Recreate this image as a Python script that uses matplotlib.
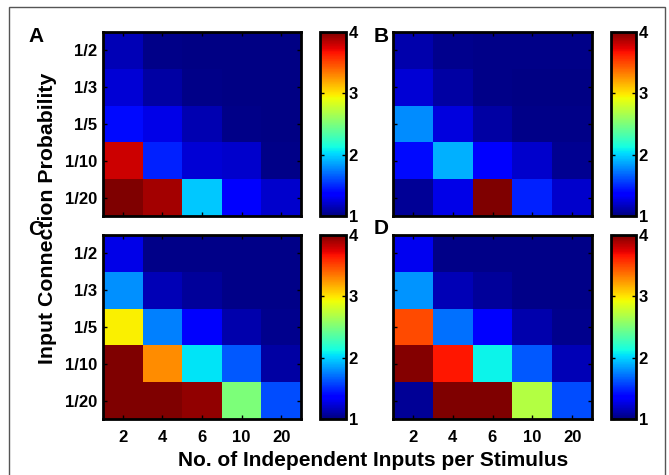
import numpy as np
import matplotlib
matplotlib.use("Agg")
import matplotlib.pyplot as plt
from matplotlib.patches import Rectangle

plt.rcParams['font.family'] = ['Liberation Sans', 'DejaVu Sans']
plt.rcParams['font.weight'] = 'bold'

# eixos
entradas = ["2", "4", "6", "10", "20"]
probabilidades = ["1/2", "1/3", "1/5", "1/10", "1/20"]

# valores por painel (linhas = probabilidade, colunas = entradas)
painel_a = [
    [1.15, 1.03, 1.02, 1.02, 1.02],
    [1.23, 1.10, 1.03, 1.02, 1.02],
    [1.40, 1.27, 1.14, 1.03, 1.02],
    [3.80, 1.47, 1.23, 1.20, 1.03],
    [4.00, 3.90, 1.97, 1.38, 1.20],
]
painel_b = [
    [1.12, 1.04, 1.03, 1.03, 1.03],
    [1.23, 1.10, 1.03, 1.02, 1.02],
    [1.79, 1.25, 1.10, 1.03, 1.03],
    [1.40, 1.90, 1.35, 1.20, 1.05],
    [1.06, 1.28, 4.00, 1.47, 1.20],
]
painel_c = [
    [1.27, 1.03, 1.03, 1.03, 1.03],
    [1.80, 1.15, 1.08, 1.03, 1.03],
    [2.96, 1.75, 1.33, 1.12, 1.04],
    [4.00, 3.28, 2.05, 1.64, 1.10],
    [4.00, 4.00, 3.95, 2.50, 1.60],
]
painel_d = [
    [1.30, 1.03, 1.03, 1.03, 1.03],
    [1.82, 1.15, 1.08, 1.03, 1.03],
    [3.49, 1.71, 1.38, 1.12, 1.04],
    [3.98, 3.65, 2.10, 1.64, 1.15],
    [1.06, 4.00, 4.00, 2.70, 1.60],
]

W, H = 669, 475
fig = plt.figure(figsize=(W / 100, H / 100), dpi=100)

# moldura cinza externa
fig.patches.append(Rectangle((9 / W, -0.05), 656 / W, 1 - 7 / H + 0.05,
                             transform=fig.transFigure, fill=False,
                             edgecolor='#555555', linewidth=1.0))

def px(x0, y0, x1, y1):
    return [x0 / W, 1 - y1 / H, (x1 - x0) / W, (y1 - y0) / H]

paineis = [
    ("A", painel_a, (103, 32, 301, 216), (320, 32, 346, 216), (28, 36), True, False),
    ("B", painel_b, (393, 32, 592, 216), (611, 32, 636, 216), (374, 36), False, False),
    ("C", painel_c, (103, 235, 301, 419), (320, 235, 346, 419), (28, 230), True, True),
    ("D", painel_d, (393, 235, 592, 419), (611, 235, 636, 419), (374, 228), False, True),
]

for letra, dados, caixa, caixa_cb, pos_letra, mostra_y, mostra_x in paineis:
    ax = fig.add_axes(px(*caixa))
    im = ax.imshow(np.array(dados), cmap='jet', vmin=1, vmax=4,
                   aspect='auto', interpolation='nearest')
    ax.set_xticks(range(len(entradas)))
    ax.set_yticks(range(len(probabilidades)))
    ax.set_xticklabels(entradas if mostra_x else [], fontsize=12, fontweight='bold')
    ax.set_yticklabels(probabilidades if mostra_y else [], fontsize=12, fontweight='bold')
    ax.tick_params(direction='in', length=3, width=1, top=True, right=True,
                   pad=4)
    ax.tick_params(axis='x', pad=8)
    for s in ax.spines.values():
        s.set_linewidth(2)

    cax = fig.add_axes(px(*caixa_cb))
    cb = fig.colorbar(im, cax=cax, ticks=[1, 2, 3, 4])
    cb.ax.tick_params(direction='in', length=3, width=1, left=True,
                      labelsize=12, pad=2)
    for t in cb.ax.get_yticklabels():
        t.set_fontweight('bold')
    cb.outline.set_linewidth(2)

    fig.text(pos_letra[0] / W, 1 - pos_letra[1] / H, letra, fontsize=15,
             fontweight='bold', ha='left', va='center')

fig.text(48 / W, 1 - 218 / H, "Input Connection Probability", rotation=90,
         fontsize=15.3, fontweight='bold', ha='center', va='center')
fig.text(373 / W, 1 - 460 / H, "No. of Independent Inputs per Stimulus",
         fontsize=15, fontweight='bold', ha='center', va='center')

fig.savefig("out.png", dpi=100)
